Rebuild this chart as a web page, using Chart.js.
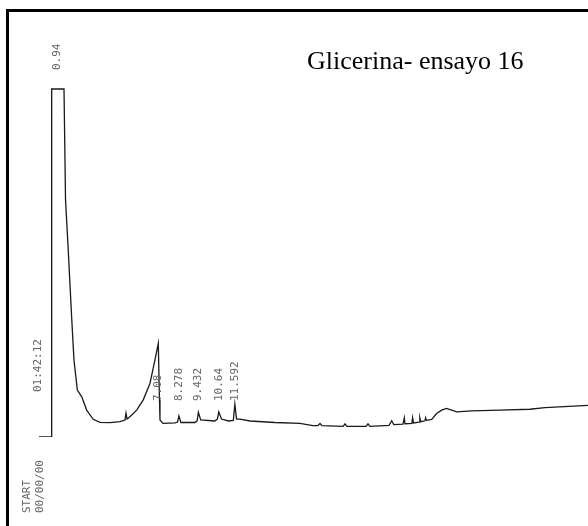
<!DOCTYPE html>
<html>
<head>
<meta charset="utf-8">
<script src="https://cdn.jsdelivr.net/npm/chart.js@4"></script>
<style>
html,body{margin:0;padding:0;background:#fff;}
#wrap{width:588px;height:526px;position:relative;}
</style>
</head>
<body>
<div id="wrap"><canvas id="c" width="588" height="526"></canvas></div>
<script>
// Retention time (min) and detector response (arbitrary units, trace clipped at top)
const times = [0, 0.75, 0.75, 1.48, 1.57, 1.73, 1.93, 2.07, 2.27, 2.53, 2.82, 3.21, 3.61, 4.20, 4.79, 5.09, 5.15, 5.21, 5.38, 5.78, 6.17, 6.57, 6.86, 7.06, 7.13, 7.16, 7.34, 8.05, 8.20, 8.278, 8.40, 9.23, 9.36, 9.432, 9.57, 10.40, 10.56, 10.64, 10.80, 11.21, 11.50, 11.592, 11.69, 11.90, 12.49, 13.96, 15.44, 16.21, 16.51, 16.63, 16.75, 18.00, 18.11, 18.22, 19.35, 19.47, 19.59, 20.71, 20.87, 21.00, 21.54, 21.62, 21.66, 22.07, 22.11, 22.16, 22.51, 22.54, 22.59, 22.84, 22.88, 22.93, 23.24, 23.53, 23.83, 24.12, 24.42, 24.72, 25.60, 27.28, 29.05, 29.94, 32.49];
const response = [0, 0, 81.5, 81.5, 55.5, 43.8, 28.2, 18.0, 11.0, 9.4, 6.3, 4.15, 3.44, 3.35, 3.58, 3.98, 5.6, 4.2, 4.75, 6.3, 8.7, 12.6, 18.0, 21.9, 8.7, 4.0, 3.2, 3.3, 3.5, 4.9, 3.4, 3.4, 3.8, 5.8, 4.0, 3.75, 4.2, 5.9, 4.2, 3.75, 3.9, 7.7, 4.2, 4.2, 3.75, 3.4, 3.2, 2.65, 2.65, 3.16, 2.65, 2.5, 3.1, 2.5, 2.5, 3.1, 2.5, 2.7, 3.8, 2.9, 3.0, 4.5, 3.1, 3.2, 4.5, 3.3, 3.5, 4.5, 3.6, 3.8, 4.5, 3.9, 4.1, 5.5, 6.3, 6.7, 6.3, 5.9, 6.1, 6.3, 6.5, 6.9, 7.4];
// Integrator peak labels
const peakTimes = [0.94, 7.08, 8.278, 9.432, 10.64, 11.592];
const peakLabels = ["0.94", "7.08", "8.278", "9.432", "10.64", "11.592"];
const clippedPeak = "0.94";
const stampLabels = ["01:42:12", "START", "00/00/00"];
const titleText = "Glicerina- ensayo 16";

const points = times.map((t, i) => ({x: t, y: response[i]}));

const decor = {
  id: 'decor',
  beforeDraw(chart) {
    const ctx = chart.ctx;
    ctx.save();
    ctx.fillStyle = '#fff';
    ctx.fillRect(0, 0, chart.width, chart.height);
    ctx.restore();
  },
  afterDraw(chart) {
    const ctx = chart.ctx;
    const xs = chart.scales.x;
    ctx.save();
    // frame
    ctx.fillStyle = '#000';
    ctx.fillRect(6, 9, 582, 3);
    ctx.fillRect(6, 9, 3, 517);
    // title
    ctx.fillStyle = '#000';
    ctx.font = '26px "Liberation Serif", "Times New Roman", serif';
    ctx.textBaseline = 'alphabetic';
    ctx.textAlign = 'left';
    ctx.fillText(titleText, 307, 69);
    // rotated integrator labels
    ctx.fillStyle = '#666';
    ctx.font = '11px "DejaVu Sans Mono", monospace';
    const vtext = (txt, x, yBottom) => {
      ctx.save();
      ctx.translate(x, yBottom);
      ctx.rotate(-Math.PI / 2);
      ctx.textAlign = 'left';
      ctx.textBaseline = 'middle';
      ctx.fillText(txt, 0, 0);
      ctx.restore();
    };
    peakTimes.forEach((t, i) => {
      const px = xs.getPixelForValue(t);
      if (peakLabels[i] === clippedPeak) vtext(peakLabels[i], px + 2, 70);
      else vtext(peakLabels[i], px, 401);
    });
    vtext(stampLabels[0], 38, 392);
    vtext(stampLabels[1], 27, 513);
    vtext(stampLabels[2], 40, 513);
    ctx.restore();
  }
};

new Chart(document.getElementById('c'), {
  type: 'line',
  data: {
    datasets: [{
      data: points,
      borderColor: '#1a1a1a',
      borderWidth: 1.3,
      pointRadius: 0,
      tension: 0,
      fill: false
    }]
  },
  options: {
    responsive: false,
    animation: false,
    devicePixelRatio: 1,
    layout: {padding: {left: 39, top: 10, right: 0, bottom: 89}},
    plugins: {legend: {display: false}, tooltip: {enabled: false}, title: {display: false}},
    scales: {
      x: {type: 'linear', min: 0, max: 32.49, display: false},
      y: {min: 0, max: 100, display: false}
    }
  },
  plugins: [decor]
});
</script>
</body>
</html>
